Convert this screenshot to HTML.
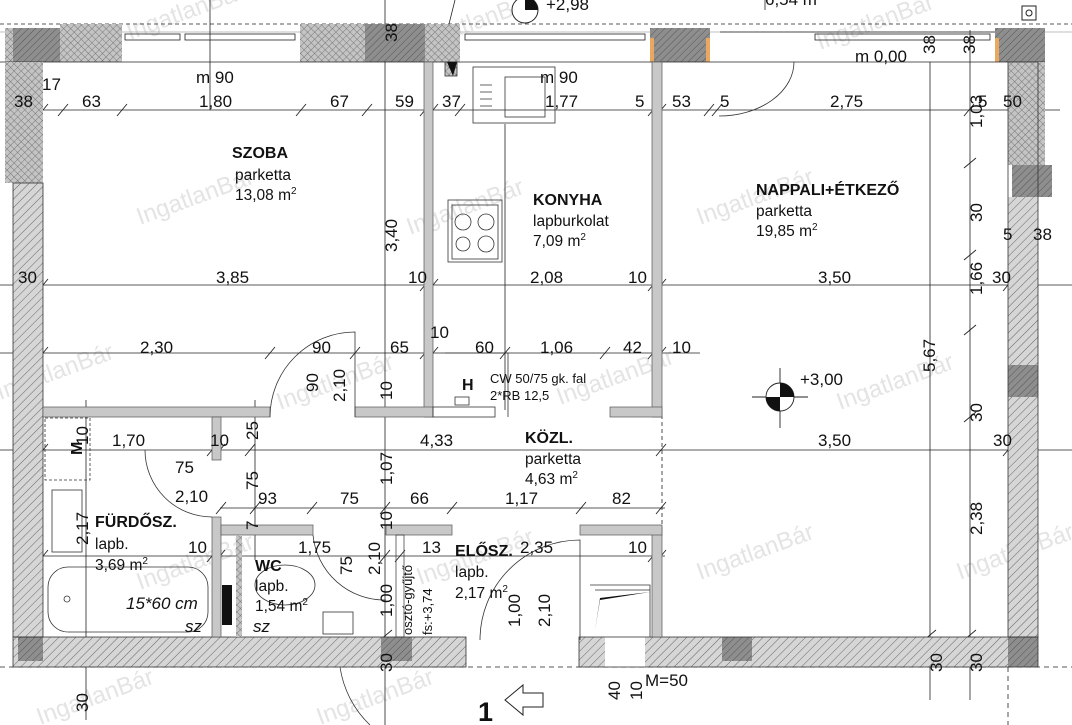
<!DOCTYPE html>
<html><head><meta charset="utf-8"><style>
html,body{margin:0;padding:0;background:#fff}
svg{display:block}
text{font-family:"Liberation Sans",sans-serif;fill:#111}
.d{font-size:17px}
.b{font-size:16px;font-weight:bold}
.r{font-size:15.5px}
.s{font-size:13px}
.w{font-size:24px;fill:#e4e4e4}
</style></head><body>
<svg width="1072" height="725" viewBox="0 0 1072 725" xmlns="http://www.w3.org/2000/svg">
<defs>
<pattern id="dg" width="6" height="6" patternUnits="userSpaceOnUse" patternTransform="rotate(45)">
<rect width="6" height="6" fill="#d6d6d6"/><line x1="0" y1="0" x2="0" y2="6" stroke="#666" stroke-width="1"/></pattern>
<pattern id="dk" width="5" height="5" patternUnits="userSpaceOnUse" patternTransform="rotate(45)">
<rect width="5" height="5" fill="#8e8e8e"/><line x1="0" y1="0" x2="0" y2="5" stroke="#555" stroke-width="1"/></pattern>
<pattern id="cx" width="5" height="5" patternUnits="userSpaceOnUse" patternTransform="rotate(45)">
<rect width="5" height="5" fill="#c4c4c4"/><line x1="0" y1="0" x2="0" y2="5" stroke="#666" stroke-width="0.8"/><line x1="0" y1="0" x2="5" y2="0" stroke="#666" stroke-width="0.8"/></pattern>
</defs>

<!-- watermarks -->
<g class="w">
<text x="130" y="40" transform="rotate(-20 130 40)" class="w">IngatlanBár</text>
<text x="420" y="50" transform="rotate(-20 420 50)" class="w">IngatlanBár</text>
<text x="820" y="50" transform="rotate(-20 820 50)" class="w">IngatlanBár</text>
<text x="140" y="225" transform="rotate(-20 140 225)" class="w">IngatlanBár</text>
<text x="410" y="235" transform="rotate(-20 410 235)" class="w">IngatlanBár</text>
<text x="700" y="225" transform="rotate(-20 700 225)" class="w">IngatlanBár</text>
<text x="0" y="400" transform="rotate(-20 0 400)" class="w">IngatlanBár</text>
<text x="280" y="410" transform="rotate(-20 280 410)" class="w">IngatlanBár</text>
<text x="560" y="405" transform="rotate(-20 560 405)" class="w">IngatlanBár</text>
<text x="840" y="410" transform="rotate(-20 840 410)" class="w">IngatlanBár</text>
<text x="140" y="590" transform="rotate(-20 140 590)" class="w">IngatlanBár</text>
<text x="420" y="585" transform="rotate(-20 420 585)" class="w">IngatlanBár</text>
<text x="700" y="580" transform="rotate(-20 700 580)" class="w">IngatlanBár</text>
<text x="960" y="580" transform="rotate(-20 960 580)" class="w">IngatlanBár</text>
<text x="40" y="725" transform="rotate(-20 40 725)" class="w">IngatlanBár</text>
<text x="320" y="725" transform="rotate(-20 320 725)" class="w">IngatlanBár</text>
</g>

<g stroke="#222" stroke-width="0.8" fill="none">
<!-- top dashed and thin lines -->
<line x1="0" y1="24" x2="1072" y2="24" stroke-dasharray="4,3"/>
<line x1="0" y1="32" x2="1072" y2="32" stroke="#aaa"/>
<line x1="210" y1="0" x2="210" y2="110"/>
<line x1="455" y1="0" x2="440" y2="60"/>
<line x1="765" y1="0" x2="765" y2="10"/>
<!-- dimension lines -->
<line x1="43" y1="110" x2="1060" y2="110"/>
<line x1="0" y1="285" x2="1072" y2="285"/>
<line x1="0" y1="353" x2="700" y2="353"/>
<line x1="0" y1="450" x2="1072" y2="450"/>
<line x1="220" y1="508" x2="665" y2="508"/>
<line x1="43" y1="556" x2="665" y2="556"/>
<line x1="385" y1="0" x2="385" y2="725"/>
<line x1="930" y1="62" x2="930" y2="700"/>
<line x1="970" y1="30" x2="970" y2="700"/>
<line x1="86" y1="400" x2="86" y2="720"/>
<line x1="255" y1="400" x2="255" y2="560"/>
<line x1="505" y1="124" x2="505" y2="410"/>
<line x1="662" y1="415" x2="662" y2="527" stroke-dasharray="4,3"/>
<line x1="0" y1="667" x2="1072" y2="667" stroke-dasharray="5,4"/>
<line x1="1008" y1="667" x2="1008" y2="725" stroke-dasharray="5,4"/>
</g>
<!-- ticks -->
<g stroke="#222" stroke-width="0.9">
<path d="M38 116l10-12M58 116l10-12M117 116l10-12M296 116l10-12M362 116l10-12M420 116l10-12M428 116l10-12M455 116l10-12M648 116l10-12M656 116l10-12M704 116l10-12M712 116l10-12M964 116l10-12M1008 116l10-12M1016 116l10-12"/>
<path d="M38 291l10-12M420 291l10-12M428 291l10-12M648 291l10-12M656 291l10-12M1003 291l10-12"/>
<path d="M38 359l10-12M265 359l10-12M350 359l10-12M420 359l10-12M428 359l10-12M500 359l10-12M600 359l10-12M648 359l10-12M656 359l10-12"/>
<path d="M38 456l10-12M207 456l10-12M215 456l10-12M245 456l10-12M656 456l10-12M1003 456l10-12"/>
<path d="M216 514l10-12M250 514l10-12M307 514l10-12M380 514l10-12M447 514l10-12M576 514l10-12M656 514l10-12"/>
<path d="M38 562l10-12M207 562l10-12M215 562l10-12M380 562l10-12M395 562l10-12M648 562l10-12M656 562l10-12"/>
<path d="M964 168l12-10M964 260l12-10M964 335l12-10M964 422l12-10M924 640l12-10M964 640l12-10M380 640l12-10"/>
</g>

<!-- top wall -->
<rect x="5" y="28" width="55" height="34" fill="url(#dk)"/>
<rect x="5" y="28" width="8" height="34" fill="url(#cx)"/>
<rect x="60" y="24" width="62" height="38" fill="url(#cx)"/>
<rect x="300" y="24" width="65" height="38" fill="url(#cx)"/>
<rect x="365" y="24" width="60" height="38" fill="url(#dk)"/>
<rect x="425" y="24" width="35" height="38" fill="url(#cx)"/>
<rect x="650" y="28" width="60" height="34" fill="url(#dk)"/>
<rect x="650" y="38" width="4" height="24" fill="#e9a860"/>
<rect x="706" y="38" width="4" height="24" fill="#e9a860"/>
<rect x="995" y="28" width="50" height="34" fill="url(#dk)"/>
<rect x="995" y="38" width="4" height="24" fill="#e9a860"/>
<g stroke="#222" stroke-width="0.8" fill="none">
<line x1="0" y1="62" x2="1045" y2="62"/>
<rect x="125" y="34" width="55" height="6"/><rect x="185" y="34" width="110" height="6"/>
<rect x="465" y="34" width="180" height="6"/><rect x="815" y="34" width="175" height="6"/>
<line x1="720" y1="32" x2="995" y2="32"/>
</g>
<!-- left wall -->
<rect x="5" y="62" width="38" height="121" fill="url(#cx)"/>
<rect x="13" y="183" width="30" height="454" fill="url(#dg)"/>
<!-- bottom wall -->
<rect x="13" y="637" width="453" height="30" fill="url(#dg)"/>
<rect x="18" y="637" width="25" height="24" fill="url(#dk)"/>
<rect x="381" y="637" width="31" height="24" fill="url(#dk)"/>
<rect x="579" y="637" width="459" height="30" fill="url(#dg)"/>
<rect x="605" y="637" width="40" height="30" fill="#fff"/>
<rect x="722" y="637" width="30" height="24" fill="url(#dk)"/>
<rect x="1008" y="637" width="30" height="30" fill="url(#dk)"/>
<!-- right wall -->
<rect x="1008" y="62" width="37" height="103" fill="url(#cx)"/>
<rect x="1012" y="165" width="40" height="32" fill="url(#dk)"/>
<rect x="1008" y="197" width="30" height="440" fill="url(#dg)"/>
<rect x="1008" y="365" width="30" height="32" fill="url(#dk)"/>
<g stroke="#333" stroke-width="0.8" fill="none">
<rect x="13" y="637" width="453" height="30"/><rect x="579" y="637" width="459" height="30"/>
<rect x="1008" y="62" width="30" height="575"/><rect x="13" y="183" width="30" height="454"/>
</g>

<!-- interior walls -->
<g fill="#c8c8c8" stroke="#555" stroke-width="0.7">
<rect x="424" y="62" width="9" height="355"/>
<rect x="652" y="62" width="10" height="355"/>
<rect x="652" y="527" width="10" height="110"/>
<rect x="43" y="407" width="227" height="10"/>
<rect x="355" y="407" width="78" height="10"/>
<rect x="610" y="407" width="52" height="10"/>
<rect x="212" y="417" width="9" height="43"/>
<rect x="212" y="517" width="9" height="120"/>
<rect x="221" y="525" width="92" height="10"/>
<rect x="386" y="525" width="66" height="10"/>
<rect x="580" y="525" width="82" height="10"/>
</g>
<rect x="236" y="535" width="6" height="102" fill="url(#cx)"/>
<rect x="396" y="535" width="8" height="102" fill="none" stroke="#333" stroke-width="0.7"/>
<!-- kitchen -->
<g stroke="#333" stroke-width="0.8" fill="none">
<rect x="473" y="67" width="82" height="56"/><rect x="505" y="77" width="40" height="40"/>
<path d="M480 85h12M480 92h12M480 99h12M480 106h12"/>
<rect x="448" y="200" width="54" height="62"/><rect x="452" y="205" width="46" height="54"/>
<circle cx="463" cy="222" r="8"/><circle cx="486" cy="222" r="8"/><circle cx="463" cy="244" r="7"/><circle cx="486" cy="244" r="8"/>
<rect x="433" y="407" width="62" height="10"/><polyline points="445,353 508,353 508,417"/>
<rect x="455" y="397" width="14" height="8"/>
<rect x="445" y="62" width="12" height="14" fill="url(#cx)"/>
<!-- bath -->
<rect x="45" y="418" width="45" height="62" stroke-dasharray="3,2"/>
<rect x="52" y="490" width="30" height="62"/>
<rect x="48" y="567" width="160" height="65" rx="20"/>
<circle cx="67" cy="599" r="3"/>
<rect x="323" y="612" width="30" height="22"/>
<ellipse cx="285" cy="585" rx="30" ry="20"/>
<!-- doors -->
<path d="M270 417 A85 85 0 0 1 355 332 V417"/>
<path d="M145 450 A67 67 0 0 0 212 517"/>
<path d="M313 535 A72 72 0 0 0 386 600"/>
<path d="M480 640 A100 100 0 0 1 580 540 V640"/>
<path d="M794 62 A75 54 0 0 1 719 116"/>
<path d="M340 667 A100 100 0 0 0 370 725"/>
<path d="M590 585h60v52M595 590h55" />
</g>
<path d="M600 600 L650 592 L600 598 L595 630Z" fill="#111"/>
<path d="M222 585h10v40h-10z" fill="#111"/>
<path d="M447 62l6 14 4-14z" fill="#111"/>
<!-- level marker -->
<g stroke="#222" stroke-width="0.9"><line x1="752" y1="397" x2="808" y2="397"/><line x1="780" y1="368" x2="780" y2="428"/>
<circle cx="780" cy="397" r="14" fill="#fff"/></g>
<path d="M780 383 A14 14 0 0 1 794 397 H780Z M780 411 A14 14 0 0 1 766 397 H780Z" fill="#111"/>
<circle cx="525" cy="10" r="13" fill="#fff" stroke="#222"/><path d="M525 -3 A13 13 0 0 1 538 10H525Z" fill="#111"/>
<rect x="1022" y="6" width="14" height="14" fill="none" stroke="#222"/><circle cx="1029" cy="13" r="3" fill="none" stroke="#222"/>
<path d="M505 700 l18 -15 v8 h20 v14 h-20 v8z" fill="none" stroke="#222"/>

<!-- texts -->
<g class="d">
<text x="14" y="107">38</text><text x="82" y="107">63</text><text x="199" y="107">1,80</text><text x="330" y="107">67</text><text x="395" y="107">59</text><text x="442" y="107">37</text><text x="545" y="107">1,77</text><text x="635" y="107">5</text><text x="672" y="107">53</text><text x="720" y="107">5</text><text x="830" y="107">2,75</text><text x="978" y="107">5</text><text x="1003" y="107">50</text>
<text x="42" y="90">17</text><text x="196" y="83">m 90</text><text x="540" y="83">m 90</text><text x="855" y="62">m 0,00</text><text x="546" y="10">+2,98</text><text x="765" y="5">6,54 m</text>
<text x="18" y="283">30</text><text x="216" y="283">3,85</text><text x="408" y="283">10</text><text x="530" y="283">2,08</text><text x="628" y="283">10</text><text x="818" y="283">3,50</text><text x="992" y="283">30</text>
<text x="1003" y="240">5</text><text x="1033" y="240">38</text>
<text x="140" y="353">2,30</text><text x="312" y="353">90</text><text x="390" y="353">65</text><text x="430" y="338">10</text><text x="475" y="353">60</text><text x="540" y="353">1,06</text><text x="623" y="353">42</text><text x="672" y="353">10</text>
<text x="800" y="385">+3,00</text>
<text x="112" y="446">1,70</text><text x="210" y="446">10</text><text x="420" y="446">4,33</text><text x="818" y="446">3,50</text><text x="993" y="446">30</text>
<text x="175" y="473">75</text><text x="175" y="502">2,10</text><text x="258" y="504">93</text><text x="340" y="504">75</text><text x="410" y="504">66</text><text x="505" y="504">1,17</text><text x="612" y="504">82</text>
<text x="188" y="553">10</text><text x="298" y="553">1,75</text><text x="422" y="553">13</text><text x="520" y="553">2,35</text><text x="628" y="553">10</text>
<text x="126" y="609" font-style="italic">15*60 cm</text><text x="185" y="632" font-style="italic">sz</text><text x="253" y="632" font-style="italic">sz</text>
<text x="645" y="686">M=50</text>
</g>
<g class="d">
<text transform="translate(397,42) rotate(-90)">38</text>
<text transform="translate(935,54) rotate(-90)">38</text>
<text transform="translate(975,54) rotate(-90)">38</text>
<text transform="translate(982,128) rotate(-90)">1,03</text>
<text transform="translate(982,222) rotate(-90)">30</text>
<text transform="translate(982,295) rotate(-90)">1,66</text>
<text transform="translate(982,422) rotate(-90)">30</text>
<text transform="translate(982,535) rotate(-90)">2,38</text>
<text transform="translate(982,672) rotate(-90)">30</text>
<text transform="translate(942,672) rotate(-90)">30</text>
<text transform="translate(935,372) rotate(-90)">5,67</text>
<text transform="translate(397,252) rotate(-90)">3,40</text>
<text transform="translate(318,392) rotate(-90)">90</text>
<text transform="translate(345,402) rotate(-90)">2,10</text>
<text transform="translate(392,400) rotate(-90)">10</text>
<text transform="translate(258,440) rotate(-90)">25</text>
<text transform="translate(258,490) rotate(-90)">75</text>
<text transform="translate(258,530) rotate(-90)">7</text>
<text transform="translate(392,485) rotate(-90)">1,07</text>
<text transform="translate(392,530) rotate(-90)">10</text>
<text transform="translate(352,575) rotate(-90)">75</text>
<text transform="translate(380,575) rotate(-90)">2,10</text>
<text transform="translate(392,617) rotate(-90)">1,00</text>
<text transform="translate(392,672) rotate(-90)">30</text>
<text transform="translate(88,545) rotate(-90)">2,17</text>
<text transform="translate(88,445) rotate(-90)">10</text>
<text transform="translate(88,712) rotate(-90)">30</text>
<text transform="translate(520,627) rotate(-90)">1,00</text>
<text transform="translate(550,627) rotate(-90)">2,10</text>
<text transform="translate(620,700) rotate(-90)">40</text>
<text transform="translate(642,700) rotate(-90)">10</text>
</g>
<text transform="translate(82,455) rotate(-90)" class="b">M</text>
<text transform="translate(412,635) rotate(-90)" class="s">osztó-gyűjtő</text>
<text transform="translate(432,635) rotate(-90)" class="s">fs:+3,74</text>
<text x="232" y="158" class="b">SZOBA</text><text x="235" y="180" class="r">parketta</text><text x="235" y="200" class="r">13,08 m<tspan dy="-6" font-size="10">2</tspan></text>
<text x="533" y="205" class="b">KONYHA</text><text x="533" y="226" class="r">lapburkolat</text><text x="533" y="246" class="r">7,09 m<tspan dy="-6" font-size="10">2</tspan></text>
<text x="756" y="195" class="b">NAPPALI+ÉTKEZŐ</text><text x="756" y="216" class="r">parketta</text><text x="756" y="236" class="r">19,85 m<tspan dy="-6" font-size="10">2</tspan></text>
<text x="525" y="443" class="b">KÖZL.</text><text x="525" y="464" class="r">parketta</text><text x="525" y="484" class="r">4,63 m<tspan dy="-6" font-size="10">2</tspan></text>
<text x="95" y="527" class="b">FÜRDŐSZ.</text><text x="95" y="549" class="r">lapb.</text><text x="95" y="570" class="r">3,69 m<tspan dy="-6" font-size="10">2</tspan></text>
<text x="255" y="571" class="b">WC</text><text x="255" y="591" class="r">lapb.</text><text x="255" y="611" class="r">1,54 m<tspan dy="-6" font-size="10">2</tspan></text>
<text x="455" y="556" class="b">ELŐSZ.</text><text x="455" y="577" class="r">lapb.</text><text x="455" y="598" class="r">2,17 m<tspan dy="-6" font-size="10">2</tspan></text>
<text x="462" y="390" class="b">H</text>
<text x="490" y="383" class="s">CW 50/75 gk. fal</text><text x="490" y="400" class="s">2*RB 12,5</text>
<text x="478" y="721" font-size="27" font-weight="bold">1</text>
</svg>
</body></html>
